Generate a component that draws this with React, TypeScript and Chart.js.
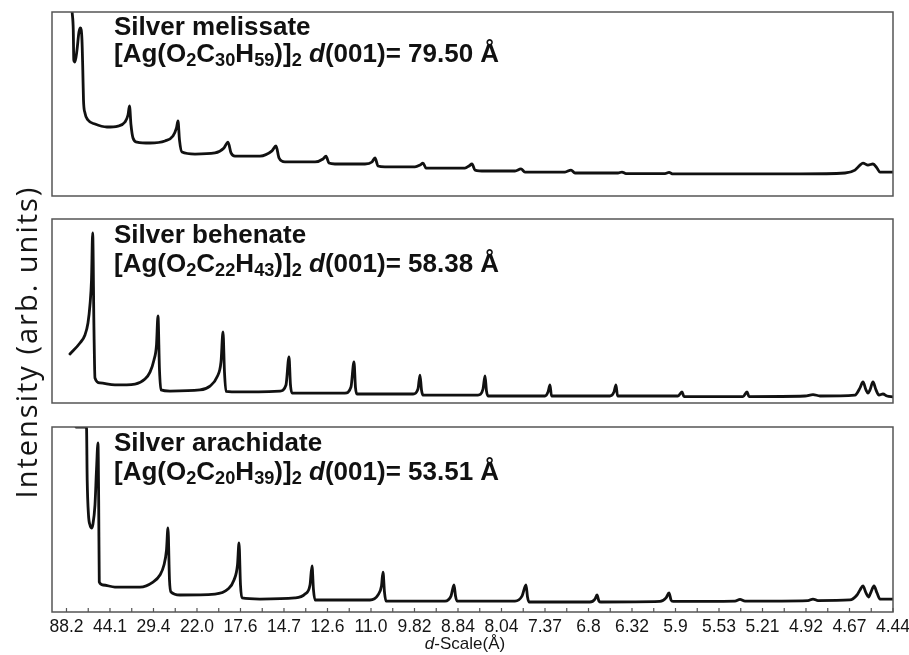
import React, { useEffect, useRef } from 'react';
import { Chart, registerables } from 'chart.js';

Chart.register(...registerables);

// ---------------- data ----------------
// x axis: scattering vector in units of 2π/88.2 Å (order n of an 88.2 Å spacing)
const D_SCALE_LABELS = ['88.2', '44.1', '29.4', '22.0', '17.6', '14.7', '12.6', '11.0', '9.82', '8.84',
  '8.04', '7.37', '6.8', '6.32', '5.9', '5.53', '5.21', '4.92', '4.67', '4.44'];
const TICK_POSITIONS = [1, 1.5, 2, 2.5, 3, 3.5, 4, 4.5, 5, 5.5, 6, 6.5, 7, 7.5, 8, 8.5, 9, 9.5, 10, 10.5,
  11, 11.5, 12, 12.5, 13, 13.5, 14, 14.5, 15, 15.5, 16, 16.5, 17, 17.5, 18, 18.5, 19, 19.5, 20];
const X_MIN = 0.667;
const X_MAX = 20;

const MELISSATE_Q = [1.13, 1.156, 1.168, 1.195, 1.241, 1.287, 1.322, 1.356, 1.375, 1.391, 1.425, 1.494, 1.655,
  1.931, 2.184, 2.345, 2.414, 2.448, 2.483, 2.529, 2.621, 2.92, 3.264, 3.448, 3.529, 3.563, 3.598, 3.655,
  3.954, 4.414, 4.621, 4.713, 4.782, 4.874, 5.448, 5.724, 5.816, 5.885, 6.023, 6.713, 6.897, 6.966, 7.034,
  7.172, 7.862, 8.023, 8.092, 8.161, 8.322, 9.011, 9.126, 9.195, 9.264, 10.161, 10.253, 10.322, 10.391,
  10.621, 11.31, 11.448, 11.54, 12.46, 12.598, 12.69, 13.678, 13.77, 13.862, 14.759, 14.851, 14.943, 17.862,
  18.897, 19.126, 19.241, 19.31, 19.425, 19.54, 19.632, 19.701, 20.0];
const MELISSATE_I = [100, 90.2, 73.9, 72.8, 79.3, 89.1, 91.3, 84.8, 68.5, 52.2, 45.1, 41.3, 39.1,
  37.5, 38.0, 40.2, 44.0, 48.9, 38.6, 31.5, 29.3, 28.8, 29.9, 32.6, 37.0, 40.8, 30.4, 23.9,
  22.8, 23.4, 26.1, 29.3, 23.4, 21.7, 21.7, 24.5, 27.2, 20.7, 18.5, 18.5, 20.1, 21.7, 17.9,
  17.4, 17.4, 18.5, 20.7, 16.3, 15.8, 15.8, 16.8, 17.9, 15.2, 15.2, 16.3, 17.4, 14.1,
  13.6, 13.6, 14.7, 13.0, 13.0, 14.1, 12.5, 12.5, 13.0, 12.2, 12.2, 12.8, 12.0, 12.0,
  12.5, 14.1, 16.8, 17.9, 16.8, 17.4, 15.2, 13.0, 13.0];

const BEHENATE_Q = [1.08, 1.31, 1.425, 1.494, 1.54, 1.575, 1.602, 1.632, 1.655, 1.77, 2.115, 2.575, 2.805,
  2.92, 3.011, 3.069, 3.103, 3.138, 3.172, 3.379, 4.069, 4.299, 4.46, 4.552, 4.598, 4.632, 4.667, 4.989,
  5.908, 6.046, 6.115, 6.149, 6.184, 7.402, 7.54, 7.609, 7.644, 7.678, 8.966, 9.08, 9.126, 9.161, 9.195,
  10.46, 10.575, 10.621, 10.655, 10.69, 12.0, 12.069, 12.115, 12.149, 13.494, 13.586, 13.632, 13.667,
  15.057, 15.149, 15.195, 16.552, 16.644, 16.69, 17.977, 18.161, 18.322, 19.126, 19.241, 19.31, 19.379,
  19.425, 19.471, 19.54, 19.609, 19.678, 19.77, 19.862, 20.0];
const BEHENATE_I = [26.6, 32.6, 37.0, 43.5, 53.3, 66.8, 92.4, 39.7, 13.6, 10.9, 9.8, 10.3, 13.0,
  16.8, 23.4, 31.5, 47.3, 17.9, 7.1, 6.5, 7.1, 9.2, 14.1, 22.3, 38.6, 16.8, 6.3, 6.0,
  6.5, 9.8, 25.0, 9.8, 5.4, 5.4, 8.7, 22.3, 8.2, 4.9, 4.9, 7.6, 15.2, 7.1, 4.3,
  4.3, 7.6, 14.7, 6.5, 3.8, 3.8, 6.0, 9.8, 3.8, 3.8, 6.0, 9.8, 3.8,
  3.8, 6.0, 3.5, 3.5, 6.0, 3.5, 3.8, 4.6, 3.8, 4.3, 8.2, 11.4, 7.1,
  5.4, 7.1, 11.4, 7.1, 4.3, 4.9, 3.8, 3.3];

const ARACHIDATE_Q = [1.218, 1.46, 1.476, 1.506, 1.54, 1.575, 1.609, 1.655, 1.69, 1.724, 1.74, 1.754, 1.839,
  2.115, 2.69, 2.989, 3.149, 3.241, 3.299, 3.333, 3.368, 3.402, 3.609, 4.414, 4.713, 4.851, 4.931, 4.966,
  5.0, 5.034, 5.448, 6.253, 6.483, 6.598, 6.644, 6.678, 6.713, 7.977, 8.161, 8.241, 8.276, 8.31, 8.345,
  9.701, 9.839, 9.908, 9.943, 9.977, 11.31, 11.471, 11.563, 11.598, 11.632, 13.034, 13.149, 13.195, 13.241,
  13.287, 14.644, 14.782, 14.851, 14.897, 14.943, 16.368, 16.483, 16.598, 18.046, 18.161, 18.276, 19.011,
  19.172, 19.241, 19.31, 19.379, 19.437, 19.494, 19.563, 19.632, 19.701, 20.0];
const ARACHIDATE_I = [100, 100, 71.4, 52.4, 47.0, 45.4, 47.6, 57.8, 76.8, 91.4, 60.5, 16.2, 14.6,
  13.5, 13.5, 16.2, 20.0, 25.4, 33.5, 45.4, 17.3, 10.8, 9.2, 9.7, 12.4, 17.3, 25.4, 37.3,
  14.6, 7.6, 7.0, 7.6, 9.7, 14.6, 24.9, 11.9, 6.5, 6.5, 9.2, 14.1, 21.6, 10.8, 5.9,
  5.9, 8.6, 14.6, 8.6, 5.9, 5.9, 8.6, 14.6, 8.1, 5.4, 5.4, 7.0, 9.2, 5.9,
  5.4, 5.7, 7.6, 10.3, 6.5, 5.7, 5.9, 6.8, 5.9, 6.2, 7.0, 6.2, 6.5,
  9.2, 11.9, 14.1, 10.3, 8.1, 10.8, 14.1, 10.3, 7.0, 7.0];

const PANEL_NAMES = ['Silver melissate', 'Silver behenate', 'Silver arachidate'];
const CARBON_COUNTS = ['30', '22', '20'];
const HYDROGEN_COUNTS = ['59', '43', '39'];
const D001_VALUES = ['79.50', '58.38', '53.51'];
const Y_TITLE = 'Intensity (arb. units)';

// ---------------- layout ----------------
const W = 909;
const PAD_LEFT = 52;
const PAD_RIGHT = 16;
const AXIS_HEIGHT = 30;
const PANELS = [
  { q: MELISSATE_Q, i: MELISSATE_I, top: 0, height: 200, padTop: 12, padBottom: 4, axis: false, line1: 13, line2: 40 },
  { q: BEHENATE_Q, i: BEHENATE_I, top: 200, height: 210, padTop: 19, padBottom: 7, axis: false, line1: 221, line2: 250 },
  { q: ARACHIDATE_Q, i: ARACHIDATE_I, top: 410, height: 245, padTop: 17, padBottom: 13, axis: true, line1: 429, line2: 458 },
];

const LABEL_FONT = '"Liberation Sans", Arial, Helvetica, sans-serif';

const boxPlugin = {
  id: 'panelBox',
  afterDatasetsDraw(chart: any) {
    const { ctx, chartArea: a } = chart;
    ctx.save();
    ctx.strokeStyle = '#555';
    ctx.lineWidth = 1.5;
    ctx.strokeRect(a.left, a.top, a.right - a.left, a.bottom - a.top);
    ctx.restore();
  },
};

const innerTicksPlugin = {
  id: 'innerTicks',
  afterDatasetsDraw(chart: any) {
    const sx = chart.scales.x;
    if (!sx || !sx.options.display) return;
    const { ctx, chartArea: a } = chart;
    ctx.save();
    ctx.strokeStyle = '#555';
    ctx.lineWidth = 1.2;
    ctx.beginPath();
    sx.ticks.forEach((t: any) => {
      const px = sx.getPixelForValue(t.value);
      ctx.moveTo(px, a.bottom);
      ctx.lineTo(px, a.bottom - 4);
    });
    ctx.stroke();
    ctx.restore();
  },
};

function Panel({ cfg }: { cfg: any }) {
  const ref = useRef<HTMLCanvasElement>(null);
  useEffect(() => {
    const chart = new Chart(ref.current as HTMLCanvasElement, {
      type: 'line',
      data: {
        datasets: [
          {
            data: cfg.q.map((x: number, k: number) => ({ x, y: cfg.i[k] })),
            borderColor: '#111',
            borderWidth: 2.8,
            pointRadius: 0,
            cubicInterpolationMode: 'monotone',
            borderJoinStyle: 'round',
            borderCapStyle: 'round',
            fill: false,
          } as any,
        ],
      },
      options: {
        responsive: false,
        animation: false,
        events: [],
        layout: { padding: { left: PAD_LEFT, right: PAD_RIGHT, top: cfg.padTop, bottom: cfg.padBottom } },
        plugins: { legend: { display: false }, tooltip: { enabled: false }, title: { display: false } },
        scales: {
          x: {
            type: 'linear',
            min: X_MIN,
            max: X_MAX,
            display: cfg.axis,
            afterBuildTicks: (s: any) => {
              s.ticks = TICK_POSITIONS.map((v) => ({ value: v }));
            },
            afterFit: (s: any) => {
              if (!cfg.axis) return;
              s.height = AXIS_HEIGHT;
              s.paddingLeft = 0;
              s.paddingRight = 0;
            },
            ticks: {
              autoSkip: false,
              maxRotation: 0,
              minRotation: 0,
              padding: 5,
              color: '#151515',
              font: { family: LABEL_FONT, size: 17.5 },
              callback: (v: any) => (Number.isInteger(v) ? D_SCALE_LABELS[v - 1] : ''),
            },
            grid: { display: false, drawTicks: false },
            border: { display: false },
          } as any,
          y: { min: 0, max: 100, display: false },
        },
      },
      plugins: [boxPlugin, innerTicksPlugin],
    });
    return () => chart.destroy();
  }, []);
  return (
    <canvas
      ref={ref}
      width={W}
      height={cfg.height}
      style={{ position: 'absolute', left: 0, top: cfg.top, width: W, height: cfg.height }}
    />
  );
}

const Sub = ({ children }: { children: any }) => (
  <span style={{ fontSize: '0.7em', position: 'relative', top: '0.22em' }}>{children}</span>
);

export default function App() {
  const textBase: any = {
    position: 'absolute',
    left: 114,
    fontFamily: LABEL_FONT,
    fontWeight: 'bold',
    fontSize: 26,
    lineHeight: '26px',
    color: '#111',
    whiteSpace: 'nowrap',
  };
  return (
    <div style={{ position: 'absolute', left: 0, top: 0, width: W, height: 655, background: '#fff', overflow: 'hidden' }}>
      {PANELS.map((p, k) => (
        <Panel key={k} cfg={p} />
      ))}
      {PANELS.map((p, k) => (
        <React.Fragment key={'t' + k}>
          <div style={{ ...textBase, top: p.line1 }}>{PANEL_NAMES[k]}</div>
          <div style={{ ...textBase, top: p.line2 }}>
            [Ag(O<Sub>2</Sub>C<Sub>{CARBON_COUNTS[k]}</Sub>H<Sub>{HYDROGEN_COUNTS[k]}</Sub>)]<Sub>2</Sub>{' '}
            <i>d</i>(001)= {D001_VALUES[k]} Å
          </div>
        </React.Fragment>
      ))}
      <div
        style={{
          position: 'absolute',
          left: 25.5 - 200,
          top: 342 - 20,
          width: 400,
          height: 40,
          lineHeight: '40px',
          textAlign: 'center',
          transform: 'rotate(-90deg)',
          fontFamily: '"Open Sans", sans-serif',
          fontSize: 29,
          letterSpacing: 2,
          color: '#151515',
          whiteSpace: 'nowrap',
        }}
      >
        {Y_TITLE}
      </div>
      <div
        style={{
          position: 'absolute',
          left: 465 - 100,
          top: 634,
          width: 200,
          height: 20,
          lineHeight: '20px',
          textAlign: 'center',
          fontFamily: LABEL_FONT,
          fontSize: 17,
          color: '#151515',
          whiteSpace: 'nowrap',
        }}
      >
        <i>d</i>-Scale(Å)
      </div>
    </div>
  );
}
